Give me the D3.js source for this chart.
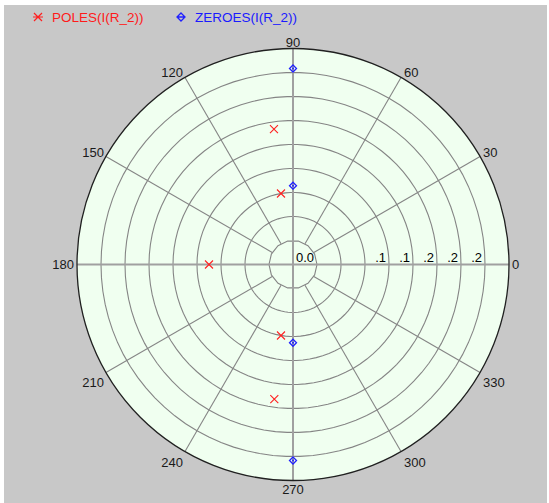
<!DOCTYPE html>
<html>
<head>
<meta charset="utf-8">
<script src="https://cdn.jsdelivr.net/npm/d3@7"></script>
<style>
  body { margin: 0; background: #fff; }
  svg { display: block; }
  text { font-family: "Liberation Sans", Arial, sans-serif; }
</style>
</head>
<body>
<svg id="chart"></svg>
<script>
// данные: полюса и нули (модуль, угол в градусах)
const poleMag = [0.171, 0.090, 0.105, 0.090, 0.170];
const poleAng = [98, 99.6, 180, 260.4, 262.1];
const zeroMag = [0.245, 0.0985, 0.0978, 0.245];
const zeroAng = [90, 90, 270, 270];

// кольца сетки и подписи
const ringValues = [0.03, 0.06, 0.09, 0.12, 0.15, 0.18, 0.21, 0.24, 0.27];
const ringLabels = ['', '', '', '.1', '.1', '.2', '.2', '.2', ''];
const angleTicks = [0, 30, 60, 90, 120, 150, 180, 210, 240, 270, 300, 330];
const seriesNames = ['POLES(I(R_2))', 'ZEROES(I(R_2))'];

const W = 549, H = 503;
const cx = 293, cy = 264.5, R = 216;

const svg = d3.select('#chart').attr('width', W).attr('height', H);

// фон
svg.append('rect').attr('x', 4).attr('y', 5).attr('width', W - 6).attr('height', H - 5)
  .attr('fill', '#c8c8c8');

const r = d3.scaleLinear().domain([0, 0.27]).range([0, R]);
const toXY = (v, deg) => {
  const a = deg * Math.PI / 180;
  return [cx + r(v) * Math.cos(a), cy - r(v) * Math.sin(a)];
};

const g = svg.append('g');

// заливка круга
g.append('circle').attr('cx', cx).attr('cy', cy).attr('r', R).attr('fill', '#f0fff0');

// кольца (внутреннее - многоугольник, как в оригинале)
ringValues.slice(0, -1).forEach((v, i) => {
  const n = i === 0 ? 14 : 90;
  const pts = d3.range(n).map(k => toXY(v, k * 360 / n));
  g.append('path')
    .attr('d', d3.line().curve(d3.curveLinearClosed)(pts))
    .attr('fill', 'none')
    .attr('stroke', '#858585')
    .attr('stroke-width', 1.1);
});

// лучи
angleTicks.forEach(a => {
  const main = a % 90 === 0;
  const p0 = toXY(main ? 0 : ringValues[0], a);
  const p1 = toXY(0.27, a);
  g.append('line')
    .attr('x1', p0[0]).attr('y1', p0[1]).attr('x2', p1[0]).attr('y2', p1[1])
    .attr('stroke', main ? '#a0a0a0' : '#858585')
    .attr('stroke-width', main ? 2 : 1.1);
});

// внешний круг
g.append('circle').attr('cx', cx).attr('cy', cy).attr('r', R)
  .attr('fill', 'none').attr('stroke', '#202020').attr('stroke-width', 1.3);

// подписи колец
g.append('text').attr('x', cx + 3).attr('y', cy - 3)
  .attr('font-size', 13).attr('fill', '#000').text('0.0');
ringValues.forEach((v, i) => {
  if (!ringLabels[i]) return;
  g.append('text')
    .attr('x', cx + r(v) - 3).attr('y', cy - 3)
    .attr('text-anchor', 'end')
    .attr('font-size', 13).attr('fill', '#000')
    .text(ringLabels[i]);
});

// подписи углов
angleTicks.forEach(a => {
  const [x, y] = toXY(0.27, a);
  let anchor, dy, dx = 0;
  if (a === 0) { anchor = 'start'; dy = '0.35em'; dx = 3; }
  else if (a < 90) { anchor = 'start'; dy = '0'; dx = 3; }
  else if (a === 90) { anchor = 'middle'; dy = '-2'; }
  else if (a < 180) { anchor = 'end'; dy = '0'; dx = -2; }
  else if (a === 180) { anchor = 'end'; dy = '0.35em'; dx = -3; }
  else if (a < 270) { anchor = 'end'; dy = '1.15em'; dx = -2; }
  else if (a === 270) { anchor = 'middle'; dy = '1.05em'; }
  else { anchor = 'start'; dy = '1.15em'; dx = 3; }
  g.append('text')
    .attr('x', x + dx).attr('y', y).attr('dy', dy)
    .attr('text-anchor', anchor)
    .attr('font-size', 13).attr('fill', '#1a1a1a')
    .text(a);
});

// маркеры
const crossPath = s => `M${-s},${-s}L${s},${s}M${-s},${s}L${s},${-s}`;
const zeroPath = s => `M0,${-s}L${s},0L0,${s}L${-s},0Z`;

poleMag.forEach((m, i) => {
  const [x, y] = toXY(m, poleAng[i]);
  g.append('path').attr('transform', `translate(${x},${y})`)
    .attr('d', crossPath(4)).attr('stroke', '#ff2020').attr('stroke-width', 1.1).attr('fill', 'none');
});
zeroMag.forEach((m, i) => {
  const [x, y] = toXY(m, zeroAng[i]);
  const mk = g.append('g').attr('transform', `translate(${x},${y})`);
  mk.append('path').attr('d', zeroPath(3.5)).attr('stroke', '#2020ff').attr('stroke-width', 1.3).attr('fill', 'none');
  mk.append('circle').attr('r', 1).attr('fill', '#2020ff');
});

// легенда
const leg = svg.append('g');
leg.append('path').attr('transform', 'translate(38,17)')
  .attr('d', crossPath(4) + 'M-5,0L5,0')
  .attr('stroke', '#ff2020').attr('stroke-width', 1.2).attr('fill', 'none');
leg.append('text').attr('x', 52).attr('y', 22).attr('font-size', 13.5).attr('fill', '#ff1a1a')
  .text(seriesNames[0]);
leg.append('path').attr('transform', 'translate(181,17)')
  .attr('d', zeroPath(4) + 'M-3,0L3,0')
  .attr('stroke', '#2020ff').attr('stroke-width', 1.3).attr('fill', 'none');
leg.append('text').attr('x', 195).attr('y', 22).attr('font-size', 13.5).attr('fill', '#1a1aff')
  .text(seriesNames[1]);
</script>
</body>
</html>
